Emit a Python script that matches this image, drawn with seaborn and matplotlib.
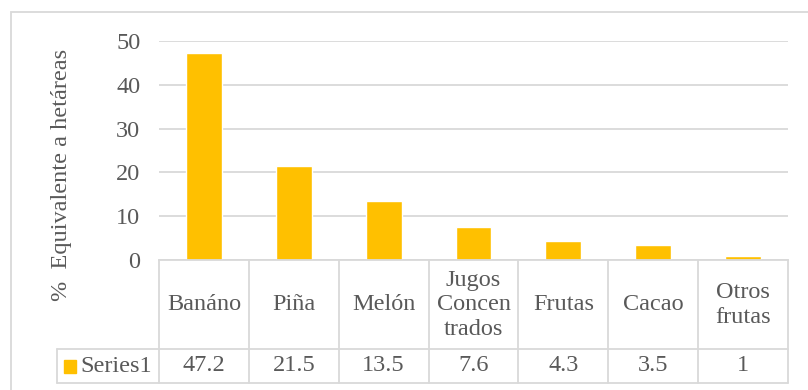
import matplotlib
matplotlib.use("Agg")
import matplotlib.pyplot as plt
import matplotlib.transforms as mtransforms
from matplotlib.patches import Rectangle
import seaborn as sns
import pandas as pd

# data
categorias = ["Banáno", "Piña", "Melón", "Jugos\nConcen\ntrados", "Frutas", "Cacao", "Otros\nfrutas"]
valores = [47.2, 21.5, 13.5, 7.6, 4.3, 3.5, 1]
etiquetas_valor = ["47.2", "21.5", "13.5", "7.6", "4.3", "3.5", "1"]
serie = "Series1"

amarillo = "#FFC000"
gris_txt = "#595959"
gris_lin = "#D9D9D9"
fs = 17.5

sns.set_theme(style="white")
plt.rcParams["font.family"] = ["Liberation Serif", "DejaVu Serif"]

W, H = 808, 390
fig = plt.figure(figsize=(W / 100, H / 100), dpi=100)

def fx(px):
    return px / W

def fy(py):
    return 1 - py / H

# plot area in pixel coords of the reference
x0, x1, ytop, ybot = 159, 788, 41, 260
ax = fig.add_axes([fx(x0), fy(ybot), fx(x1) - fx(x0), fy(ytop) - fy(ybot)])

df = pd.DataFrame({"cat": categorias, "val": valores})
sns.barplot(data=df, x="cat", y="val", color=amarillo, saturation=1, width=0.4, ax=ax)

ax.set_ylim(0, 50)
ax.set_xlim(-0.5, len(categorias) - 0.5)
ax.set_yticks([0, 10, 20, 30, 40, 50])
ax.yaxis.grid(True, color=gris_lin, linewidth=1.3)
ax.set_axisbelow(True)
for s in ["top", "right", "left"]:
    ax.spines[s].set_visible(False)
ax.spines["bottom"].set_color(gris_lin)
ax.spines["bottom"].set_linewidth(1.3)
ax.tick_params(axis="y", length=0, pad=13.5, labelsize=fs, labelcolor=gris_txt)
ax.set_xticks([])
ax.set_xlabel("")
ax.set_ylabel("")

# data table under the axis
trans = mtransforms.blended_transform_factory(ax.transData, ax.transAxes)
alto = ybot - ytop

def ay(py):
    return (ybot - py) / alto

y_fila = ay(349)
y_fondo = ay(383)
x_leyenda = (57 - x0) / ((x1 - x0) / len(categorias)) - 0.5

lw = 1.3
for i in range(len(categorias) + 1):
    xb = i - 0.5
    ax.plot([xb, xb], [0, y_fondo], color=gris_lin, lw=lw, transform=trans, clip_on=False)
ax.plot([x_leyenda, len(categorias) - 0.5], [y_fila, y_fila], color=gris_lin, lw=lw, transform=trans, clip_on=False)
ax.plot([x_leyenda, len(categorias) - 0.5], [y_fondo, y_fondo], color=gris_lin, lw=lw, transform=trans, clip_on=False)
ax.plot([x_leyenda, x_leyenda], [y_fila, y_fondo], color=gris_lin, lw=lw, transform=trans, clip_on=False)

for i, (c, v) in enumerate(zip(categorias, etiquetas_valor)):
    ax.text(i, ay(305), c, transform=trans, ha="center", va="center", fontsize=fs,
            color=gris_txt, linespacing=1.22, clip_on=False)
    ax.text(i, ay(366), v, transform=trans, ha="center", va="center", fontsize=fs,
            color=gris_txt, clip_on=False)

# legend key in the table
fig.patches.append(Rectangle((fx(64), fy(373)), fx(76) - fx(64), fy(360) - fy(373),
                             transform=fig.transFigure, color=amarillo))
fig.text(fx(80), fy(366), serie, ha="left", va="center", fontsize=fs, color=gris_txt)

# y label
fig.text(fx(62), fy(175), "%  Equivalente a hetáreas", rotation=90, ha="center", va="center",
         fontsize=fs, color=gris_txt)

# chart border
fig.patches.append(Rectangle((fx(11), fy(400)), fx(820) - fx(11), fy(12) - fy(400),
                             transform=fig.transFigure, fill=False, edgecolor=gris_lin, lw=1.3))

fig.savefig("out.png", dpi=100)
